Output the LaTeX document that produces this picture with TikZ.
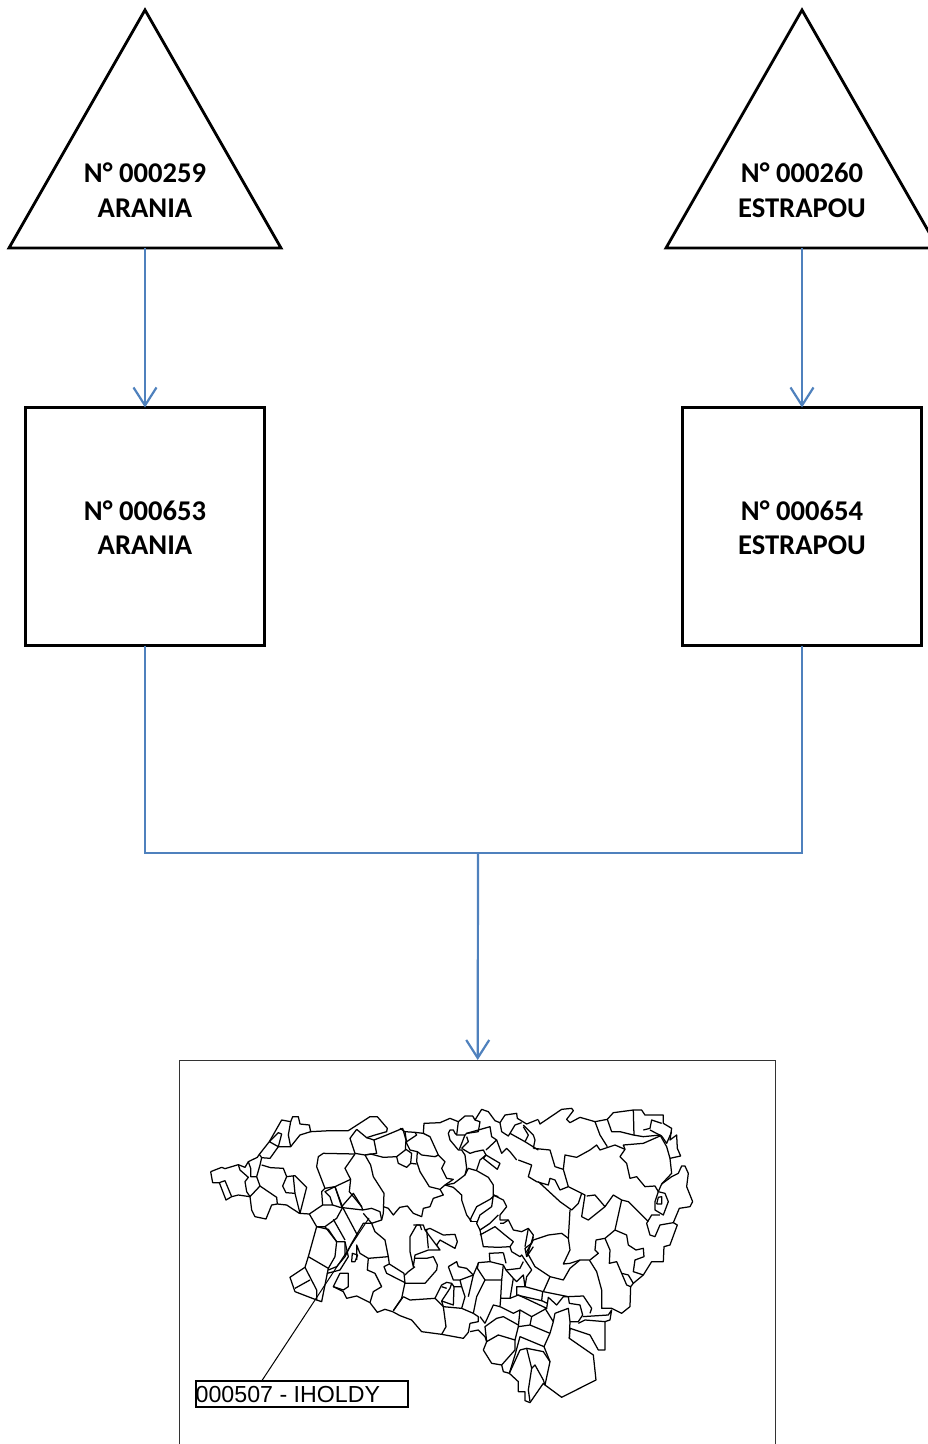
\documentclass[tikz,border=0pt]{standalone}
\usepackage{fontspec}
\setmainfont{Carlito}
\newfontfamily\labelfont{Liberation Sans}
\usetikzlibrary{positioning,arrows.meta,shapes.geometric}
\definecolor{linkblue}{HTML}{4F81BD}
\tikzset{
	shapeline/.style={draw=black,line width=2.8pt,outer sep=0pt},
	triangleshape/.style={shapeline,isosceles triangle,shape border rotate=90,isosceles triangle stretches,minimum width=272pt,minimum height=238pt,inner sep=0pt},
	squareshape/.style={shapeline,minimum width=239pt,minimum height=238pt,inner sep=0pt},
	titletext/.style={font=\bfseries\fontsize{28.6}{34.5}\selectfont,align=center,inner sep=0pt},
	link/.style={draw=linkblue,line width=2.2pt},
	linkarrow/.style={link,-{Straight Barb[length=18pt,width=23pt,line width=2.2pt]}},
	mapline/.style={line width=1.25pt,line join=round}
}
\begin{document}
\begin{tikzpicture}[x=1pt,y=-1pt]
	\useasboundingbox (0,0) rectangle (927,1444);

	%triangles
	\node [triangleshape,anchor=lower side] (tri1) at (145,248) {};
	\node [triangleshape,anchor=lower side] (tri2) at (802,248) {};
	\node [titletext] (tri1text) at (145,190) {N° 000259\\ARANIA};
	\node [titletext] (tri2text) at (802,190) {N° 000260\\ESTRAPOU};

	%squares
	\node [squareshape] (sq1) at (145,526.5) {};
	\node [squareshape] (sq2) at (802,526.5) {};
	\node [titletext] (sq1text) at (145,527.5) {N° 000653\\ARANIA};
	\node [titletext] (sq2text) at (802,527.5) {N° 000654\\ESTRAPOU};

	%map frame, its lower edge lies below the page
	\node [draw=black!80,line width=1pt,minimum width=596pt,minimum height=420pt,anchor=north,inner sep=0pt] (mapframe) at (477.7,1060) {};

	%edges
	\coordinate (joint) at (478,853);
	\draw [linkarrow] (tri1.lower side) -- (sq1.north);
	\draw [linkarrow] (tri2.lower side) -- (sq2.north);
	\draw [link] (sq1.south) |- (joint);
	\draw [link] (sq2.south) |- (joint);
	\draw [linkarrow] (joint) -- (mapframe.north);

	%map, west part
	\begin{scope}[shift={(180,1060)},x=.3333pt,y=-.3333pt,mapline]
		\draw (92,335)--(125,322)--(135,326)--(175,314)--(195,322)--(205,305)--(232,292)--(238,283)--(268,245)--(305,180)--(332,185)--(338,170)--(355,170)--(360,192)--(388,195)--(392,215)--(450,212)--(505,212)--(570,170)--(592,170)--(622,205)--(620,215)--(585,225)--(560,233)--(530,208);
		\draw (92,335)--(98,368)--(118,368)--(138,420)--(155,410)--(175,405)--(210,410);
		\draw (118,368)--(135,362)--(155,410);
		\draw (175,314)--(180,330)--(205,352)--(195,365)--(200,395)--(210,410)--(240,378)--(230,350)--(240,315)--(245,293)--(238,283);
		\draw (205,305)--(212,325)--(212,350)--(230,350);
		\draw (245,315)--(272,323)--(310,325)--(320,350)--(345,347)--(380,382)--(360,460)--(345,400)--(340,350);
		\draw (320,350)--(308,378)--(318,398)--(345,400);
		\draw (240,378)--(290,412)--(292,432);
		\draw (210,410)--(215,450)--(225,470)--(258,477)--(275,435)--(292,432)--(320,435)--(358,460)--(388,462);
		\draw (268,245)--(295,218)--(305,222)--(295,260)--(268,245);
		\draw (332,185)--(325,225)--(332,260)--(310,260)--(295,260);
		\draw (332,260)--(360,225)--(392,215);
		\draw (245,293)--(270,295)--(295,260);
		\draw (530,208)--(510,235)--(525,280)--(555,285)--(590,280)--(582,240)--(560,233);
		\draw (582,240)--(620,225)--(668,205)--(678,240)--(676,270)--(650,290)--(610,292)--(572,282)--(555,285);
		\draw (525,282)--(495,325)--(512,358)--(508,395)--(545,440)--(548,450)--(575,445)--(600,455)--(605,480)--(575,490)--(550,460);
		\draw (525,282)--(430,280)--(415,290)--(410,320)--(435,385)--(465,380)--(512,358);
		\draw (555,285)--(572,315)--(580,350)--(612,400)--(610,460)--(605,480);
		\draw (435,385)--(425,395)--(428,435)--(458,435)--(450,410)--(435,395)--(465,380)--(485,440)--(520,400)--(545,440);
		\draw (465,380)--(488,442)--(470,475)--(435,500)--(410,500);
		\draw (428,435)--(388,462)--(410,500)--(385,590)--(375,622)--(330,652)--(345,695)--(410,720)--(425,725)--(442,640);
		\draw (458,435)--(480,442)--(548,450);
		\draw (488,442)--(532,525);
		\draw (460,478)--(495,540);
		\draw (435,500)--(470,545)--(495,545)--(495,590)--(515,550)--(550,490)--(575,490);
		\draw (410,500)--(445,508)--(470,545)--(465,590)--(445,625)--(385,590);
		\draw (375,622)--(410,690)--(410,720);
		\draw (345,685)--(390,660);
		\draw (445,625)--(442,640)--(480,630)--(505,590)--(495,545);
		\draw (495,590)--(470,620)--(445,630);
		\draw (480,640)--(505,640)--(505,680)--(490,690)--(460,680)--(480,640);
		\draw (460,680)--(490,695)--(500,715)--(530,708)--(570,728)--(592,757)--(615,748)--(638,755)--(660,767);
		\draw (575,490)--(585,515)--(615,540)--(625,590)--(565,595)--(540,580)--(530,555)--(530,600);
		\draw (533,585)--(525,605)--(515,605)--(517,580)--(533,585);
		\draw (565,595)--(562,630)--(585,640)--(605,680)--(580,695)--(570,728);
		\draw (625,590)--(628,612)--(612,620)--(620,640)--(675,668);
		\draw (628,612)--(672,640)--(675,668)--(665,715)--(640,752);
		\draw (640,752)--(670,710);
		\draw (610,440)--(625,445)--(640,465)--(660,441);
		\draw (650,290)--(655,310)--(680,322)--(692,310)--(695,280)--(678,268);
		\draw (692,310)--(710,312);
	\end{scope}

	%map, middle part above
	\begin{scope}[shift={(400,1100)},x=.3333pt,y=-.3333pt,mapline]
		\draw (0,85)--(15,95)--(45,97)--(70,100)--(72,70)--(120,68)--(150,55)--(175,65)--(195,48)--(218,48)--(225,60)--(245,28)--(265,35)--(285,62)--(300,68)--(315,45)--(350,40)--(352,55)--(380,72)--(415,58);
		\draw (15,95)--(20,130)--(30,150)--(52,155)--(65,165)--(105,170)--(115,165)--(90,110)--(70,100);
		\draw (45,97)--(50,105)--(20,125);
		\draw (52,155)--(50,185)--(60,215)--(88,260)--(120,268)--(135,255)--(162,250)--(195,225)--(205,205)--(230,212)--(265,232)--(280,255)--(280,285)--(295,290);
		\draw (115,165)--(135,185)--(125,205)--(140,235)--(160,238)--(135,255);
		\draw (120,268)--(130,285)--(100,295)--(90,320)--(70,325)--(65,350)--(40,340)--(22,318)--(0,322);
		\draw (135,255)--(160,262)--(185,285)--(185,300)--(200,345)--(215,365);
		\draw (40,375)--(60,375)--(65,390);
		\draw (195,225)--(200,205)--(195,165)--(185,150)--(175,150)--(150,120)--(145,100)--(150,90)--(160,90)--(165,100)--(170,105)--(195,105)--(200,100)--(235,95)--(240,65)--(225,60);
		\draw (175,65)--(170,105);
		\draw (195,105)--(178,148);
		\draw (200,110)--(205,125)--(185,145);
		\draw (185,145)--(210,160)--(225,155)--(250,150)--(258,165)--(240,180)--(230,210);
		\draw (200,100)--(270,80)--(275,110)--(290,120)--(258,150);
		\draw (258,165)--(300,190)--(292,208)--(250,175)--(258,165);
		\draw (290,120)--(305,160)--(320,145)--(330,155)--(350,180);
		\draw (300,68)--(305,95)--(325,108)--(330,100)--(345,75)--(365,68);
		\draw (330,100)--(375,125)--(385,105)--(370,80);
		\draw (375,125)--(415,150);
		\draw (285,285)--(270,298)--(230,320)--(215,350)--(210,362);
	\end{scope}

	%map, middle part below
	\begin{scope}[shift={(400,1225)},x=.3333pt,y=-.3333pt,mapline]
		\draw (75,15)--(70,0)--(50,0)--(30,35)--(30,80)--(40,125)--(45,90)--(85,75)--(120,75)--(75,15)--(90,10)--(130,30)--(165,28)--(172,50)--(165,70)--(120,45)--(110,60)--(120,75);
		\draw (80,15)--(85,70);
		\draw (45,100)--(80,100)--(100,95)--(112,120)--(110,135)--(75,175)--(15,175);
		\draw (45,125)--(25,140)--(15,150);
		\draw (10,215)--(30,225)--(105,220)--(130,245)--(138,305)--(125,328)--(65,320)--(35,285)--(0,272);
		\draw (105,220)--(125,180)--(140,172)--(155,175)--(150,190)--(125,228)--(160,240)--(162,185)--(155,175);
		\draw (125,185)--(140,190);
		\draw (125,228)--(130,245)--(185,250)--(220,265);
		\draw (125,328)--(190,340)--(205,322)--(210,295);
		\draw (160,185)--(185,185)--(195,215)--(185,250);
		\draw (145,125)--(170,110)--(175,125)--(200,130)--(220,150)--(205,215);
		\draw (220,150)--(180,165)--(160,165)--(145,125);
		\draw (220,150)--(235,115);
		\draw (180,165)--(185,185);
	\end{scope}

	%map, east part
	\begin{scope}[shift={(470,1060)},x=.3333pt,y=-.3333pt,mapline]
		\draw (205,180)--(210,192)--(275,148)--(305,145)--(310,152)--(290,178)--(300,188)--(330,172)--(375,185)--(412,178)--(430,158)--(490,150)--(515,150)--(525,165)--(580,165)--(580,190)--(605,205)--(600,240)--(620,225)--(622,265)--(632,288)--(600,295)--(605,340)--(575,372)--(565,395);
		\draw (145,300)--(185,315)--(175,350)--(200,365)--(235,375)--(240,355)--(255,360)--(270,390)--(295,380)--(335,400)--(325,430)--(305,450)--(270,425)--(205,365);
		\draw (190,265)--(195,240)--(190,225)--(160,195);
		\draw (190,265)--(240,270)--(255,320)--(280,328)--(285,285)--(320,292)--(360,270)--(380,255)--(390,270)--(435,255)--(465,268)--(450,290)--(470,310)--(480,355)--(500,350)--(525,380)--(555,378)--(565,395);
		\draw (280,328)--(295,380);
		\draw (375,185)--(390,225)--(412,260);
		\draw (412,178)--(425,215)--(450,215)--(470,220)--(490,225)--(520,230)--(570,225)--(590,260)--(600,295);
		\draw (490,150)--(492,225);
		\draw (465,268)--(460,255)--(520,250)--(570,228);
		\draw (520,210)--(540,205)--(545,180)--(575,190);
		\draw (540,210)--(575,228)--(590,250)--(605,215);
		\draw (575,372)--(605,350)--(625,340)--(635,318)--(645,318)--(655,340)--(650,380)--(668,425)--(660,440)--(628,445)--(610,488)--(622,495)--(600,555)--(582,560)--(580,605)--(545,605)--(520,645)--(490,670)--(482,680)--(480,740)--(455,760)--(425,745)--(395,745)--(395,690)--(380,635)--(358,600)--(330,600)--(300,610)--(280,612)--(300,570)--(295,535)--(300,450);
		\draw (565,395)--(555,425)--(555,450)--(580,465)--(595,425)--(585,400)--(565,395);
		\draw (560,432)--(575,432)--(575,410)--(565,412)--(560,432);
		\draw (610,488)--(570,495)--(555,530)--(540,525)--(530,490)--(545,465)--(570,465);
		\draw (335,400)--(345,405)--(335,470)--(355,480)--(380,460)--(405,440)--(375,405)--(350,408);
		\draw (405,440)--(430,405)--(455,420)--(475,425)--(505,455)--(535,485);
		\draw (455,420)--(445,465)--(435,510)--(405,535)--(378,540)--(375,570)--(385,580)--(360,600);
		\draw (435,510)--(470,525)--(475,555)--(498,570)--(520,565)--(522,590)--(495,600)--(490,635)--(520,645);
		\draw (405,535)--(420,570)--(418,610)--(440,605)--(455,640)--(470,675)--(482,680);
		\draw (455,640)--(475,645)--(490,670);
		\draw (295,535)--(275,520)--(235,525)--(190,540)--(170,575)--(195,620)--(240,650)--(280,660)--(300,625)--(330,600);
		\draw (240,650)--(220,695);
		\draw (70,405)--(100,420)--(110,440)--(90,465)--(90,480)--(115,480)--(130,510)--(155,515)--(175,505)--(190,525)--(185,550)--(165,565)--(170,590);
		\draw (70,405)--(65,440)--(30,465)--(20,490)--(30,510)--(60,490)--(85,465);
		\draw (30,510)--(40,560)--(85,562)--(120,560)--(130,545)--(105,525)--(75,500)--(30,525);
		\draw (115,480)--(100,490)--(90,490);
		\draw (20,485)--(0,485);
		\draw (175,505)--(165,560);
		\draw (190,530)--(170,590)--(190,560);
		\draw (120,560)--(125,575)--(150,590)--(155,585)--(165,600)--(185,630)--(170,650)--(165,680)--(220,695)--(295,710)--(340,708)--(365,745)--(360,760);
		\draw (100,578)--(58,580)--(60,605)--(100,615)--(108,630)--(150,625)--(160,605);
		\draw (100,578)--(108,610);
		\draw (60,605)--(25,608)--(22,625)--(45,660)--(95,660)--(100,615);
		\draw (45,660)--(20,710)--(10,760);
		\draw (95,660)--(92,715)--(120,715)--(130,655)--(108,630);
		\draw (130,655)--(140,665)--(160,645)--(165,680)--(140,680)--(140,705);
		\draw (140,705)--(215,722)--(218,695);
		\draw (120,715)--(145,705)--(230,745)--(185,770)--(150,750)--(130,760)--(90,740)--(92,715);
		\draw (230,745)--(235,712)--(260,735)--(280,710)--(295,710);
		\draw (215,722)--(232,730);
		\draw (295,710)--(298,730)--(330,735)--(338,765)--(325,785)--(300,785)--(295,745)--(255,760)--(250,785)--(225,745);
		\draw (250,785)--(240,820)--(222,860)--(240,905)--(225,975)--(275,1012)--(378,960)--(370,885)--(298,835)--(300,805)--(360,825)--(385,870)--(405,870)--(405,785)--(420,780)--(425,750)--(415,765)--(338,770);
		\draw (300,785)--(298,835);
		\draw (325,790)--(345,780)--(405,785);
		\draw (185,770)--(180,795)--(145,800)--(150,750);
		\draw (180,795)--(240,820);
		\draw (145,800)--(135,840)--(85,825)--(50,845)--(45,800)--(80,775)--(100,770)--(145,795);
		\draw (45,790)--(70,735)--(90,740);
		\draw (10,760)--(25,770)--(25,785)--(0,790);
		\draw (45,790)--(30,770);
		\draw (222,860)--(150,830)--(135,885)--(118,940)--(100,935)--(95,915)--(65,910)--(40,870)--(50,845);
		\draw (135,840)--(135,870)--(95,915);
		\draw (150,870)--(170,865)--(220,875)--(240,905);
		\draw (150,870)--(118,940)--(145,965)--(145,995)--(165,995)--(165,1022)--(180,1028)--(220,970)--(225,975);
		\draw (170,865)--(185,925)--(175,990)--(180,1025);
		\draw (185,925)--(195,915)--(220,960)--(225,975);
		\draw (0,815)--(25,810)--(45,830)--(50,845);
	\end{scope}

	%label of the commune
	\node [draw=black,line width=2pt,minimum width=212pt,minimum height=26pt,anchor=north west,inner sep=0pt,outer sep=0pt] (communebox) at (196,1380.5) {};
	\node [font=\labelfont\fontsize{23.2}{26}\selectfont,anchor=west,inner sep=0pt] (communetext) at (195.5,1394) {000507 - IHOLDY};
	\coordinate (communepoint) at (369,1218);
	\draw [line width=1pt] (communebox.north west) ++ (66,0) -- (communepoint);
\end{tikzpicture}
\end{document}
